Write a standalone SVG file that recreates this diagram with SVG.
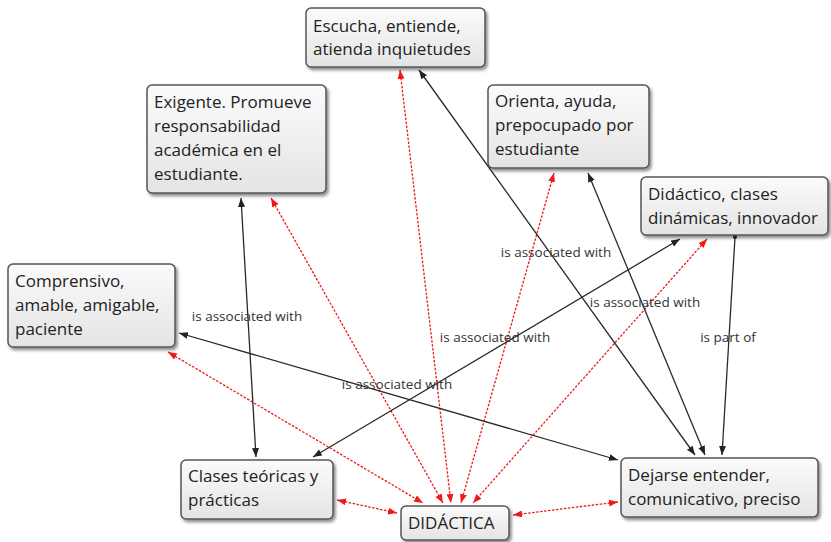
<svg xmlns="http://www.w3.org/2000/svg" width="831" height="542" viewBox="0 0 831 542">
<defs>
<linearGradient id="g" x1="0" y1="0" x2="0" y2="1">
<stop offset="0" stop-color="#fbfbfb"/>
<stop offset="1" stop-color="#e4e4e4"/>
</linearGradient>
<filter id="sh" x="-10%" y="-10%" width="130%" height="140%">
<feDropShadow dx="2" dy="2.5" stdDeviation="1.5" flood-color="#000" flood-opacity="0.45"/>
</filter>
<marker id="ab" markerUnits="userSpaceOnUse" markerWidth="10" markerHeight="8" refX="9" refY="3.5" orient="auto-start-reverse">
<path d="M0,0 L9,3.5 L0,7 z" fill="#222"/>
</marker>
<marker id="ar" markerUnits="userSpaceOnUse" markerWidth="10" markerHeight="8" refX="9" refY="3.5" orient="auto-start-reverse">
<path d="M0,0 L9,3.5 L0,7 z" fill="#f01818"/>
</marker>
</defs>
<style>
.box{fill:url(#g);stroke:#555;stroke-width:1.5;filter:url(#sh)}
.t{font-family:"Open Sans","Noto Sans",sans-serif;font-size:17px;fill:#222}
.lb{font-family:"Open Sans","Noto Sans",sans-serif;font-size:13.5px;fill:#333}
.bl{stroke:#2a2a2a;stroke-width:1.3;fill:none;marker-start:url(#ab);marker-end:url(#ab)}
.rd{stroke:#f01818;stroke-width:1.3;stroke-dasharray:2.5 1.5;fill:none;marker-start:url(#ar);marker-end:url(#ar)}
</style>
<rect width="831" height="542" fill="#fff"/>
<g id="connectors">
<line class="rd" x1="168" y1="352" x2="423" y2="503"/>
<line class="rd" x1="271" y1="198" x2="443" y2="503"/>
<line class="rd" x1="400" y1="70" x2="451" y2="503"/>
<line class="rd" x1="554" y1="173" x2="461" y2="503"/>
<line class="rd" x1="707" y1="239" x2="473" y2="503"/>
<line class="rd" x1="337" y1="500" x2="397" y2="513"/>
<line class="rd" x1="618" y1="502" x2="513" y2="515"/>
<line class="bl" x1="179" y1="333" x2="618" y2="460"/>
<line class="bl" x1="241" y1="198" x2="256" y2="457"/>
<line class="bl" x1="313" y1="457" x2="680" y2="239"/>
<line class="bl" x1="419" y1="70" x2="695" y2="455"/>
<line class="bl" x1="588" y1="173" x2="705" y2="455"/>
<line x1="735" y1="237" x2="722" y2="455" stroke="#2a2a2a" stroke-width="1.3" marker-end="url(#ab)"/>
<circle cx="735" cy="237" r="2" fill="#222"/>
<text class="lb" x="247" y="321" text-anchor="middle">is associated with</text>
<text class="lb" x="397" y="389" text-anchor="middle">is associated with</text>
<text class="lb" x="495" y="342" text-anchor="middle">is associated with</text>
<text class="lb" x="556" y="257" text-anchor="middle">is associated with</text>
<text class="lb" x="645" y="307" text-anchor="middle">is associated with</text>
<text class="lb" x="728" y="342" text-anchor="middle">is part of</text>
</g>
<g id="n-escucha">
<rect class="box" x="306" y="8" width="179" height="59" rx="5"/>
<text class="t" x="313" y="32">Escucha, entiende,</text>
<text class="t" x="313" y="55">atienda inquietudes</text>
</g>
<g id="n-exigente">
<rect class="box" x="147" y="85" width="179" height="108" rx="5"/>
<text class="t" x="154" y="108">Exigente. Promueve</text>
<text class="t" x="154" y="132">responsabilidad</text>
<text class="t" x="154" y="156">académica en el</text>
<text class="t" x="154" y="180">estudiante.</text>
</g>
<g id="n-orienta">
<rect class="box" x="488" y="85" width="161" height="83" rx="5"/>
<text class="t" x="495" y="107">Orienta, ayuda,</text>
<text class="t" x="495" y="131">prepocupado por</text>
<text class="t" x="495" y="155">estudiante</text>
</g>
<g id="n-didactico">
<rect class="box" x="641" y="177" width="187" height="58" rx="5"/>
<text class="t" x="648" y="200">Didáctico, clases</text>
<text class="t" x="648" y="224">dinámicas, innovador</text>
</g>
<g id="n-comprensivo">
<rect class="box" x="8" y="264" width="167" height="83" rx="5"/>
<text class="t" x="15" y="287">Comprensivo,</text>
<text class="t" x="15" y="311">amable, amigable,</text>
<text class="t" x="15" y="335">paciente</text>
</g>
<g id="n-clases">
<rect class="box" x="181" y="460" width="152" height="59" rx="5"/>
<text class="t" x="188" y="482">Clases teóricas y</text>
<text class="t" x="188" y="506">prácticas</text>
</g>
<g id="n-didactica">
<rect class="box" x="401" y="506" width="108" height="34" rx="5"/>
<text class="t" x="408" y="529">DIDÁCTICA</text>
</g>
<g id="n-dejarse">
<rect class="box" x="621" y="458" width="197" height="59" rx="5"/>
<text class="t" x="628" y="481">Dejarse entender,</text>
<text class="t" x="628" y="505">comunicativo, preciso</text>
</g>
</svg>
